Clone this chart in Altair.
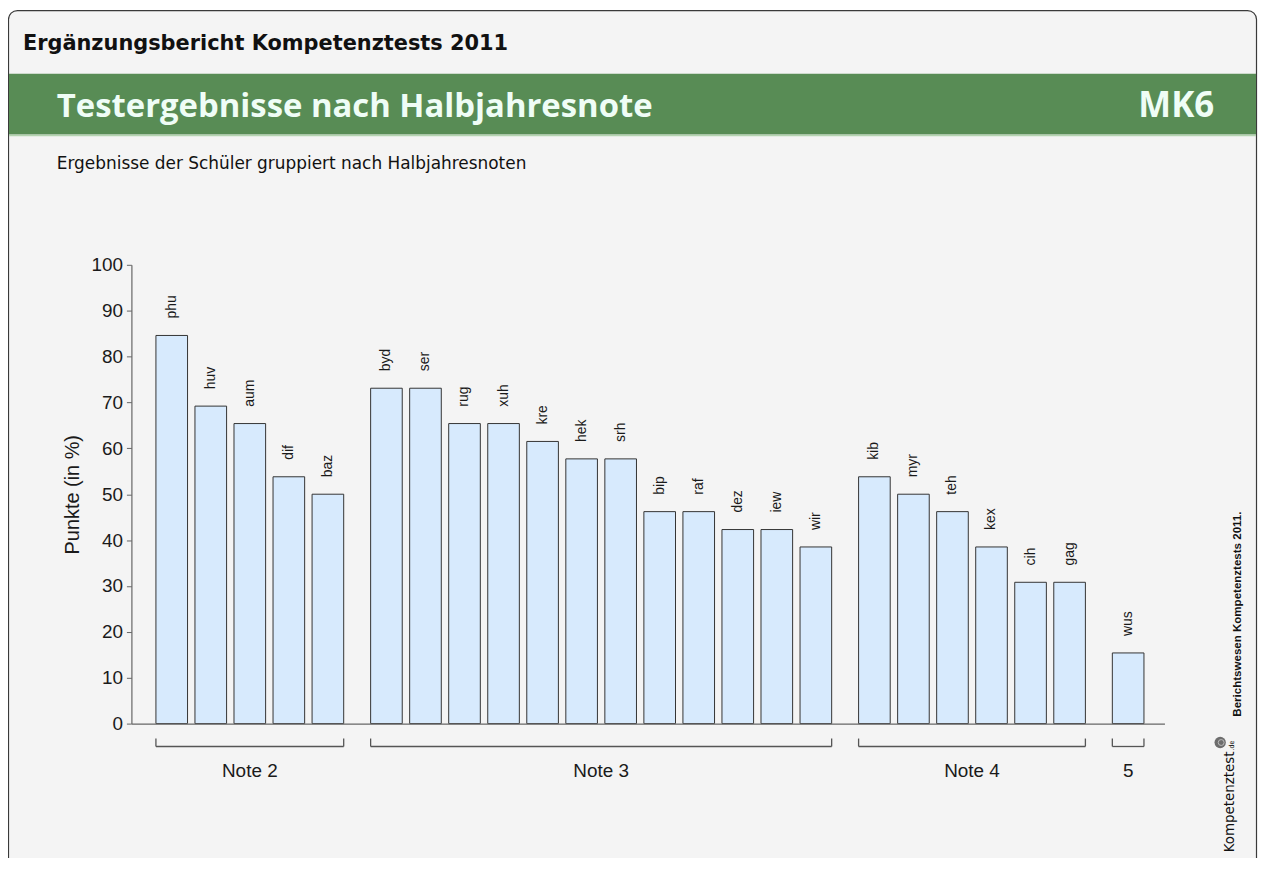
import altair as alt
import pandas as pd

# ---- data ----
names = ["phu", "huv", "aum", "dif", "baz",
         "byd", "ser", "rug", "xuh", "kre", "hek", "srh", "bip", "raf", "dez", "iew", "wir",
         "kib", "myr", "teh", "kex", "cih", "gag",
         "wus"]
values = [84.6, 69.2, 65.4, 53.8, 50.0,
          73.1, 73.1, 65.4, 65.4, 61.5, 57.7, 57.7, 46.2, 46.2, 42.3, 42.3, 38.5,
          53.8, 50.0, 46.2, 38.5, 30.8, 30.8,
          15.4]
group_sizes = [5, 12, 6, 1]
group_labels = ["Note 2", "Note 3", "Note 4", "5"]

header = "Ergänzungsbericht Kompetenztests 2011"
title = "Testergebnisse nach Halbjahresnote"
code = "MK6"
subtitle = "Ergebnisse der Schüler gruppiert nach Halbjahresnoten"
side_text = "Berichtswesen Kompetenztests 2011."
logo_text = "Kompetenztest"
y_title = "Punkte (in %)"

# ---- build table ----
groups = []
gidx = []
for gi, (lab, n) in enumerate(zip(group_labels, group_sizes)):
    groups += [lab] * n
    gidx += [gi] * n
df = pd.DataFrame({"name": names, "value": values, "group": groups, "gi": gidx})
df["order"] = range(len(df))
df["pos"] = df["order"] + 0.5 * df["gi"]

W, H = 1038, 461
PAD_L, PAD_T = 124, 256
TOTAL_W, TOTAL_H = 1256, 850
HALF = 0.405
xscale = alt.Scale(domain=[-1.033, 25.43], nice=False, zero=False)
yscale = alt.Scale(domain=[0, 100], nice=False)

one = pd.DataFrame({"a": [0]})

AX_FONT = "Liberation Sans"

frame = alt.Chart(one).mark_rect(fill="#f4f4f4", stroke="#3a3a3a", strokeWidth=1.2,
                                 cornerRadius=9).encode(
    x=alt.value(-123.5), x2=alt.value(1130.5), y=alt.value(-255.5), y2=alt.value(700))

band = alt.Chart(one).mark_rect(fill="#588c55").encode(
    x=alt.value(-123), x2=alt.value(1130), y=alt.value(-192), y2=alt.value(-131))
band_line = alt.Chart(one).mark_rule(color="#b4d4b0", strokeWidth=1.5).encode(
    x=alt.value(-123), x2=alt.value(1130), y=alt.value(-130))

t_header = alt.Chart(one).mark_text(text=header, font="DejaVu Sans", fontSize=21, fontWeight="bold",
                                    color="#111", align="left", baseline="alphabetic").encode(
    x=alt.value(-109), y=alt.value(-216))
t_title = alt.Chart(one).mark_text(text=title, font="Open Sans", fontSize=33, fontWeight="bold",
                                   color="#effdf6", align="left", baseline="alphabetic").encode(
    x=alt.value(-75), y=alt.value(-149))
t_code = alt.Chart(one).mark_text(text=code, font="Open Sans", fontSize=35, fontWeight="bold",
                                  color="#effdf6", align="right", baseline="alphabetic").encode(
    x=alt.value(1088), y=alt.value(-149))
t_sub = alt.Chart(one).mark_text(text=subtitle, font="DejaVu Sans", fontSize=17,
                                 color="#111", align="left", baseline="alphabetic").encode(
    x=alt.value(-75), y=alt.value(-96))

t_side = alt.Chart(one).mark_text(text=side_text, font=AX_FONT, fontSize=11.6, fontWeight="bold",
                                  color="#111", align="left", baseline="middle", angle=270).encode(
    x=alt.value(1112), y=alt.value(454))
t_logo = alt.Chart(one).mark_text(text=logo_text, font="DejaVu Sans Condensed", fontSize=15,
                                  color="#111", align="right", baseline="alphabetic", angle=270).encode(
    x=alt.value(1108), y=alt.value(489))
t_logo_de = alt.Chart(one).mark_text(text=".de", font="DejaVu Sans Condensed", fontSize=7,
                                     color="#111", align="left", baseline="alphabetic", angle=270).encode(
    x=alt.value(1108), y=alt.value(488))
logo_dot = alt.Chart(one).mark_point(shape="circle", filled=True, color="#333", size=130).encode(
    x=alt.value(1094), y=alt.value(480))
logo_dot2 = alt.Chart(one).mark_point(shape="circle", filled=False, color="#ddd", size=35,
                                      strokeWidth=1).encode(
    x=alt.value(1095), y=alt.value(480))

base = alt.Chart(df).transform_calculate(
    x0=f"datum.pos - {HALF}", x1=f"datum.pos + {HALF}")

bars = base.mark_bar(fill="#d7eafd", stroke="#333", strokeWidth=1).encode(
    x=alt.X("x0:Q", scale=xscale,
            axis=alt.Axis(labels=False, ticks=False, title=None, grid=False, zindex=1,
                          domainColor="#666", domainWidth=1.2)),
    x2="x1:Q",
    y=alt.Y("value:Q", scale=yscale,
            axis=alt.Axis(values=list(range(0, 101, 10)), title=y_title, grid=False, zindex=1,
                          labelFont=AX_FONT, labelFontSize=19, labelColor="#1a1a1a",
                          titleFont=AX_FONT, titleFontSize=20, titleFontWeight="normal",
                          titleColor="#1a1a1a", titlePadding=8,
                          tickSize=5, tickColor="#666", domainColor="#666", domainWidth=1.2,
                          labelPadding=4)),
    y2=alt.datum(0),
)

labels = alt.Chart(df).mark_text(font=AX_FONT, fontSize=14, color="#1a1a1a", angle=270,
                                 align="left", baseline="middle", dx=17).encode(
    x=alt.X("pos:Q", scale=xscale), y=alt.Y("value:Q", scale=yscale), text="name:N")

brk = base.transform_aggregate(start="min(x0)", end="max(x1)", groupby=["group"]).transform_calculate(
    mid="(datum.start + datum.end) / 2")

brk_h = brk.mark_rule(color="#555", strokeWidth=1.3).encode(
    x=alt.X("start:Q", scale=xscale), x2="end:Q", y=alt.value(484))
brk_l = brk.mark_rule(color="#555", strokeWidth=1.3).encode(
    x=alt.X("start:Q", scale=xscale), y=alt.value(476), y2=alt.value(484))
brk_r = brk.mark_rule(color="#555", strokeWidth=1.3).encode(
    x=alt.X("end:Q", scale=xscale), y=alt.value(476), y2=alt.value(484))
brk_t = brk.mark_text(font=AX_FONT, fontSize=19, color="#1a1a1a", baseline="middle").encode(
    x=alt.X("mid:Q", scale=xscale), y=alt.value(509), text="group:N")

chart = alt.layer(
    frame, band, band_line, t_header, t_title, t_code, t_sub,
    bars, labels, brk_h, brk_l, brk_r, brk_t,
    t_side, t_logo, t_logo_de, logo_dot, logo_dot2,
).properties(
    width=W, height=H,
    autosize=alt.AutoSizeParams(type="none"),
    padding={"left": PAD_L, "top": PAD_T, "right": TOTAL_W - PAD_L - W, "bottom": TOTAL_H - PAD_T - H},
    background="white",
).configure_view(stroke=None)

chart.save("out.html", embed_options={"renderer": "svg", "actions": False})
